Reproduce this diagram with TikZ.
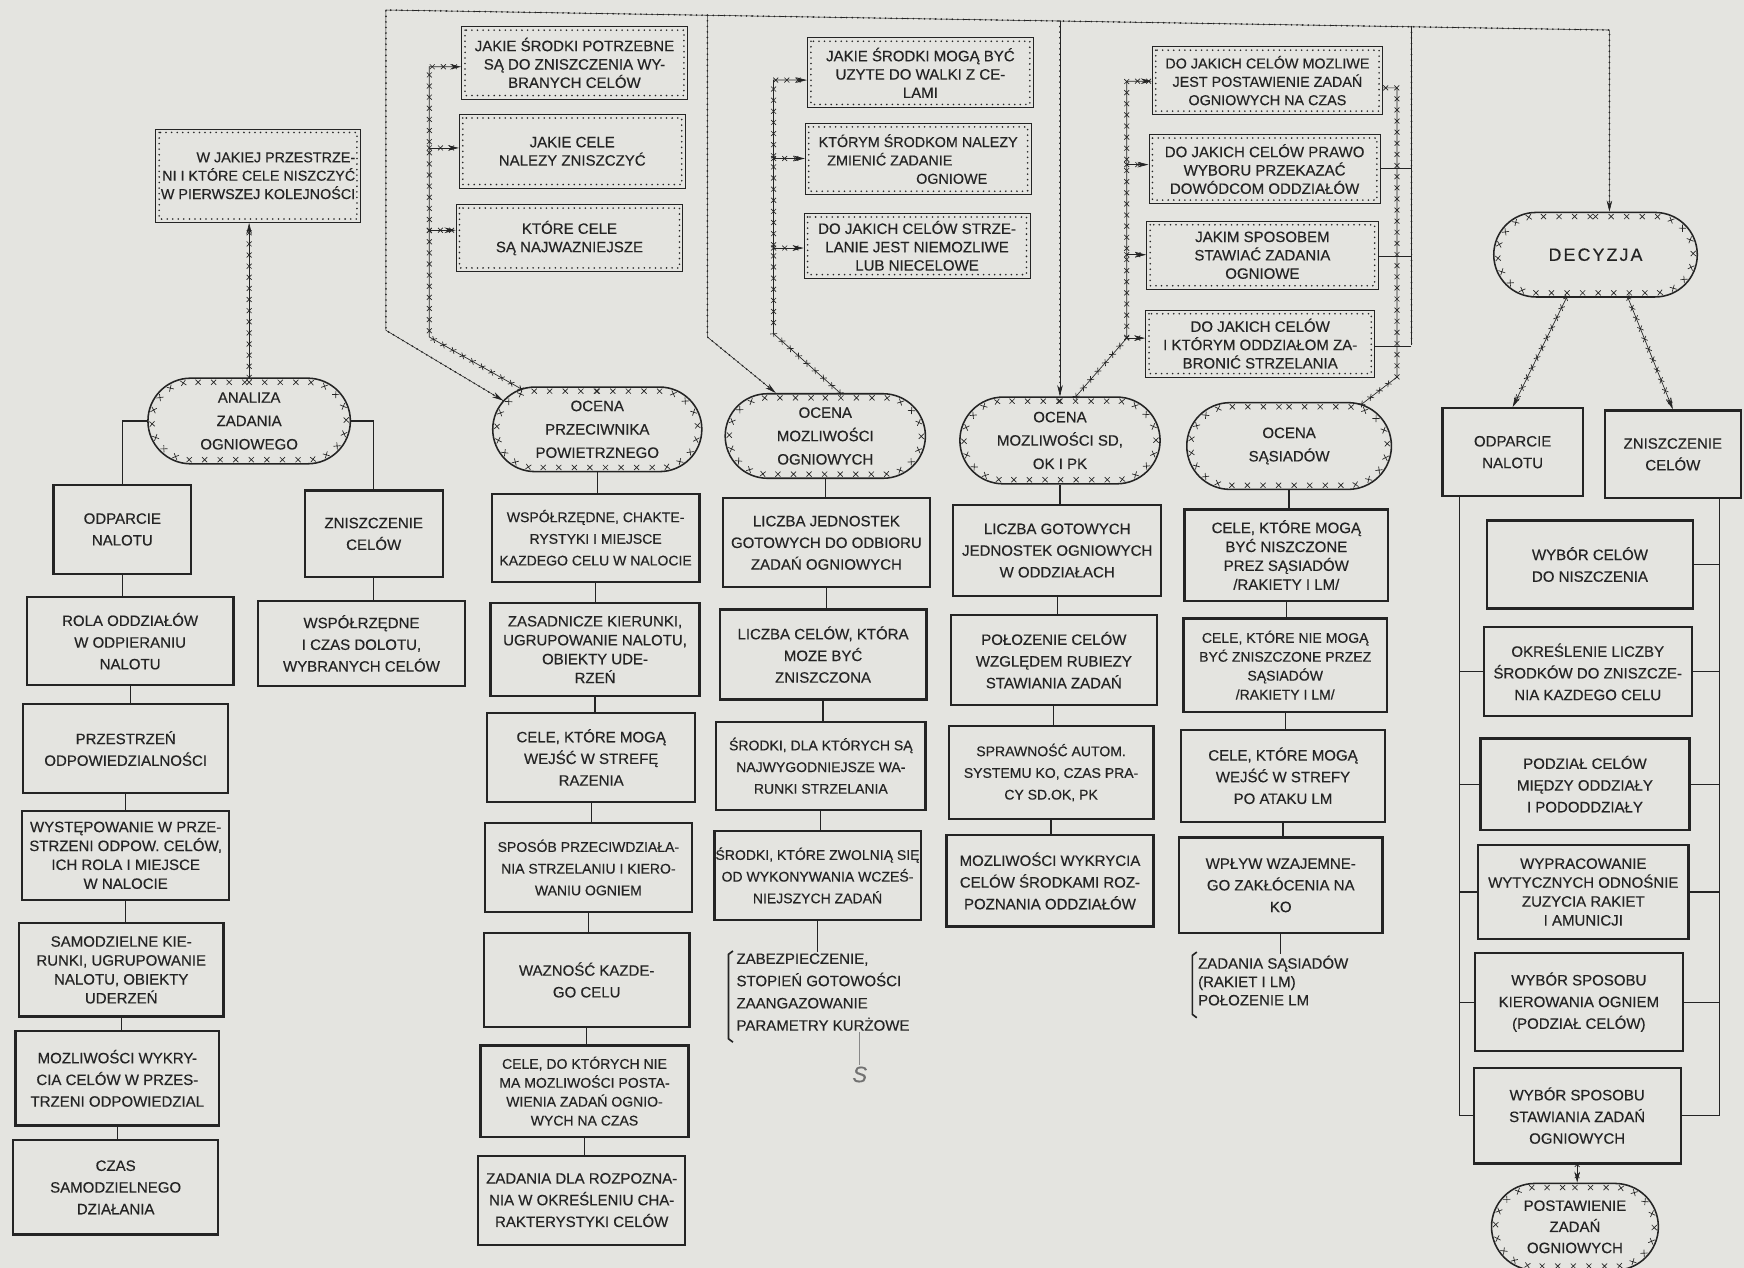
\documentclass[tikz,border=0pt]{standalone}
\usepackage{fontspec}
\setmainfont[FakeBold=0.35]{Liberation Sans}
\usetikzlibrary{shapes.misc,arrows.meta,decorations.markings,calc}
\definecolor{paper}{RGB}{228,228,224}
\definecolor{ink}{RGB}{36,36,36}
\definecolor{txt}{RGB}{36,36,36}
\tikzset{
 every node/.style={font=\fontsize{13.5}{19.5}\selectfont, text=txt, inner sep=1pt},
 pbox/.style={draw=ink, line width=2pt, rectangle, align=center},
 qbox/.style={draw=ink, line width=0.8pt, rectangle, align=center, font=\fontsize{13.5}{16.5}\selectfont},
 four/.style={font=\fontsize{13.5}{17}\selectfont},
 vtfour/.style={font=\fontsize{12.6}{17}\selectfont},
 tight/.style={font=\fontsize{12.6}{19.5}\selectfont},
 qtight/.style={font=\fontsize{12.9}{16.5}\selectfont},
 pill/.style={rounded rectangle, draw=ink, line width=1.4pt, align=center, font=\fontsize{13.5}{21}\selectfont,
   postaction={decorate, decoration={markings, mark=between positions 0 and 1 step 14pt with {\draw[ink, line width=0.6pt, arrows=-] (-2.3pt,-1.4pt)--(2.3pt,-6pt) (-2.3pt,-6pt)--(2.3pt,-1.4pt);}}}},
 cn/.style={draw=ink, line width=1.1pt},
 dotln/.style={draw=ink, line width=0.5pt, postaction={draw=ink, arrows=-, line width=1.7pt, dash pattern=on 0pt off 5pt, line cap=round}},
 xln/.style={draw=ink, line width=0.6pt, postaction={decorate, decoration={markings, mark=between positions 0 and 1 step 10pt with {\draw[ink, line width=0.6pt, arrows=-] (-2.2pt,-2.2pt)--(2.2pt,2.2pt) (-2.2pt,2.2pt)--(2.2pt,-2.2pt);}}}},
 tip/.style={-{Stealth[length=10pt,width=5pt]}},
 qdot/.style={draw=ink, line width=1.6pt, dash pattern=on 0pt off 5pt, line cap=round},
 tie/.style={draw=ink, line width=0.6pt, double=paper, double distance=2.4pt},
 brk/.style={draw=ink, line width=1.5pt},
}
\newcommand{\mybx}[7]{\node[#1, minimum width={#5-#3}, minimum height={#6-#4}] (#2) at ({(#3+#5)/2},{(#4+#6)/2}) {#7};}
\newcommand{\mypill}[7]{\node[pill, #7, minimum width={#4-#2}, minimum height={#5-#3}] (#1) at ({(#2+#4)/2},{(#3+#5)/2}) {#6};}
\newcommand{\mydots}[1]{\draw[qdot] ([shift={(3.5pt,-3.5pt)}]#1.north west) rectangle ([shift={(-3.5pt,3.5pt)}]#1.south east);}
\begin{document}
\begin{tikzpicture}[x=1pt,y=-1pt]
\useasboundingbox (0,0) rectangle (1568,1140);
\fill[paper] (0,0) rectangle (1568,1140);

% ---------- column A ----------
\mybx{qbox,qtight,align=right}{wj}{140}{116}{324}{200}{W JAKIEJ PRZESTRZE-\\NI I KTÓRE CELE NISZCZYĆ\\W PIERWSZEJ KOLEJNOŚCI}
\mypill{analiza}{132}{340}{316}{417}{ANALIZA\\ZADANIA\\OGNIOWEGO}{}
\mybx{pbox}{odpA}{48}{436}{172}{516}{ODPARCIE\\NALOTU}
\mybx{pbox}{znA}{274}{441}{398}{519}{ZNISZCZENIE\\CELÓW}
\mybx{pbox}{wspA}{232}{540}{418}{617}{WSPÓŁRZĘDNE\\I CZAS DOLOTU,\\WYBRANYCH CELÓW}
\mybx{pbox}{a1}{24}{537}{210}{616}{ROLA ODDZIAŁÓW\\W ODPIERANIU\\NALOTU}
\mybx{pbox}{a2}{21}{633}{205}{713}{PRZESTRZEŃ\\ODPOWIEDZIALNOŚCI}
\mybx{pbox,four}{a3}{20}{729}{206}{809}{WYSTĘPOWANIE W PRZE-\\STRZENI ODPOW. CELÓW,\\ICH ROLA I MIEJSCE\\W NALOCIE}
\mybx{pbox,four}{a4}{17}{830}{201}{914}{SAMODZIELNE KIE-\\RUNKI, UGRUPOWANIE\\NALOTU, OBIEKTY\\UDERZEŃ}
\mybx{pbox}{a5}{14}{927}{197}{1012}{MOZLIWOŚCI WYKRY-\\CIA CELÓW W PRZES-\\TRZENI ODPOWIEDZIAL}
\mybx{pbox}{a6}{12}{1025}{196}{1110}{CZAS\\SAMODZIELNEGO\\DZIAŁANIA}

% ---------- column B ----------
\mybx{qbox}{qb1}{415}{24}{618}{89}{JAKIE ŚRODKI POTRZEBNE\\SĄ DO ZNISZCZENIA WY-\\BRANYCH CELÓW}
\mybx{qbox}{qb2}{413}{103}{616}{169}{JAKIE CELE\\NALEZY ZNISZCZYĆ}
\mybx{qbox}{qb3}{410}{184}{614}{244}{KTÓRE CELE\\SĄ NAJWAZNIEJSZE}
\mypill{ocenaB}{442}{348}{632}{424}{OCENA\\PRZECIWNIKA\\POWIETRZNEGO}{}
\mybx{pbox,tight}{b1}{442}{444}{629}{523}{WSPÓŁRZĘDNE, CHAKTE-\\RYSTYKI I MIEJSCE\\KAZDEGO CELU W NALOCIE}
\mybx{pbox,four}{b2}{441}{542}{629}{626}{ZASADNICZE KIERUNKI,\\UGRUPOWANIE NALOTU,\\OBIEKTY UDE-\\RZEŃ}
\mybx{pbox}{b3}{438}{641}{625}{721}{CELE, KTÓRE MOGĄ\\WEJŚĆ W STREFĘ\\RAZENIA}
\mybx{pbox,tight}{b4}{436}{740}{622}{820}{SPOSÓB PRZECIWDZIAŁA-\\NIA STRZELANIU I KIERO-\\WANIU OGNIEM}
\mybx{pbox}{b5}{435}{839}{620}{923}{WAZNOŚĆ KAZDE-\\GO CELU}
\mybx{pbox,vtfour}{b6}{432}{940}{619}{1022}{CELE, DO KTÓRYCH NIE\\MA MOZLIWOŚCI POSTA-\\WIENIA ZADAŃ OGNIO-\\WYCH NA CZAS}
\mybx{pbox}{b7}{430}{1039}{616}{1119}{ZADANIA DLA ROZPOZNA-\\NIA W OKREŚLENIU CHA-\\RAKTERYSTYKI CELÓW}

% ---------- column C ----------
\mybx{qbox}{qc1}{726}{34}{929}{97}{JAKIE ŚRODKI MOGĄ BYĆ\\UZYTE DO WALKI Z CE-\\LAMI}
\mybx{qbox,qtight,align=left}{qc2}{724}{111}{927}{175}{KTÓRYM ŚRODKOM NALEZY\\\hspace*{0.6em}ZMIENIĆ ZADANIE\\\hspace*{6.8em}OGNIOWE}
\mybx{qbox}{qc3}{723}{192}{926}{250}{DO JAKICH CELÓW STRZE-\\LANIE JEST NIEMOZLIWE\\LUB NIECELOWE}
\mypill{ocenaC}{651}{354}{833}{430}{OCENA\\MOZLIWOŚCI\\OGNIOWYCH}{}
\mybx{pbox}{c1}{650}{448}{836}{528}{LICZBA JEDNOSTEK\\GOTOWYCH DO ODBIORU\\ZADAŃ OGNIOWYCH}
\mybx{pbox}{c2}{647}{548}{833}{629}{LICZBA CELÓW, KTÓRA\\MOZE BYĆ\\ZNISZCZONA}
\mybx{pbox,tight}{c3}{644}{649}{832}{728}{ŚRODKI, DLA KTÓRYCH SĄ\\NAJWYGODNIEJSZE WA-\\RUNKI STRZELANIA}
\mybx{pbox,tight}{c4}{643}{747}{827}{827}{ŚRODKI, KTÓRE ZWOLNIĄ SIĘ\\OD WYKONYWANIA WCZEŚ-\\NIEJSZYCH ZADAŃ}
\node[anchor=north west, align=left, font=\fontsize{13.5}{20}\selectfont] (noteC) at (661,856) {ZABEZPIECZENIE,\\STOPIEŃ GOTOWOŚCI\\ZAANGAZOWANIE\\PARAMETRY KURŻOWE};
\node[font=\fontsize{20}{20}\selectfont\itshape, text=ink!65] (sMark) at (773,966) {S};

% ---------- column D ----------
\mybx{qbox,qtight}{qd1}{1036}{42}{1243}{103}{DO JAKICH CELÓW MOZLIWE\\JEST POSTAWIENIE ZADAŃ\\OGNIOWYCH NA CZAS}
\mybx{qbox}{qd2}{1033}{121}{1241}{183}{DO JAKICH CELÓW PRAWO\\WYBORU PRZEKAZAĆ\\DOWÓDCOM ODDZIAŁÓW}
\mybx{qbox}{qd3}{1031}{199}{1239}{260}{JAKIM SPOSOBEM\\STAWIAĆ ZADANIA\\OGNIOWE}
\mybx{qbox}{qd4}{1030}{279}{1236}{339}{DO JAKICH CELÓW\\I KTÓRYM ODDZIAŁOM ZA-\\BRONIĆ STRZELANIA}
\mypill{ocenaD}{862}{357}{1044}{435}{OCENA\\MOZLIWOŚCI SD,\\OK I PK}{}
\mybx{pbox}{d1}{857}{454}{1044}{536}{LICZBA GOTOWYCH\\JEDNOSTEK OGNIOWYCH\\W ODDZIAŁACH}
\mybx{pbox}{d2}{855}{553}{1040}{634}{POŁOZENIE CELÓW\\WZGLĘDEM RUBIEZY\\STAWIANIA ZADAŃ}
\mybx{pbox,tight}{d3}{853}{653}{1037}{736}{SPRAWNOŚĆ AUTOM.\\SYSTEMU KO, CZAS PRA-\\CY SD.OK, PK}
\mybx{pbox}{d4}{851}{751}{1037}{833}{MOZLIWOŚCI WYKRYCIA\\CELÓW ŚRODKAMI ROZ-\\POZNANIA ODDZIAŁÓW}

% ---------- column E ----------
\mypill{ocenaE}{1066}{362}{1252}{440}{OCENA\\SĄSIADÓW}{}
\mybx{pbox,four}{e1}{1065}{458}{1248}{540}{CELE, KTÓRE MOGĄ\\BYĆ NISZCZONE\\PREZ SĄSIADÓW\\/RAKIETY I LM/}
\mybx{pbox,vtfour}{e2}{1064}{556}{1247}{640}{CELE, KTÓRE NIE MOGĄ\\BYĆ ZNISZCZONE PRZEZ\\SĄSIADÓW\\/RAKIETY I LM/}
\mybx{pbox}{e3}{1062}{656}{1245}{739}{CELE, KTÓRE MOGĄ\\WEJŚĆ W STREFY\\PO ATAKU LM}
\mybx{pbox}{e4}{1060}{753}{1243}{839}{WPŁYW WZAJEMNE-\\GO ZAKŁÓCENIA NA\\KO}
\node[anchor=north west, align=left, font=\fontsize{13.5}{16.5}\selectfont] (noteE) at (1076,858) {ZADANIA SĄSIADÓW\\(RAKIET I LM)\\POŁOZENIE LM};

% ---------- column F ----------
\mypill{decyzja}{1342}{191}{1527}{267}{{\addfontfeature{LetterSpace=12}DECYZJA}}{font=\fontsize{16}{20}\selectfont}
\mybx{pbox}{odpB}{1297}{367}{1423}{446}{ODPARCIE\\NALOTU}
\mybx{pbox}{znB}{1443}{369}{1565}{448}{ZNISZCZENIE\\CELÓW}
\mybx{pbox}{f1}{1337}{468}{1522}{547}{WYBÓR CELÓW\\DO NISZCZENIA}
\mybx{pbox}{f2}{1334}{564}{1521}{644}{OKREŚLENIE LICZBY\\ŚRODKÓW DO ZNISZCZE-\\NIA KAZDEGO CELU}
\mybx{pbox}{f3}{1331}{664}{1519}{746}{PODZIAŁ CELÓW\\MIĘDZY ODDZIAŁY\\I PODODDZIAŁY}
\mybx{pbox,four}{f4}{1329}{760}{1518}{844}{WYPRACOWANIE\\WYTYCZNYCH ODNOŚNIE\\ZUZYCIA RAKIET\\I AMUNICJI}
\mybx{pbox}{f5}{1326}{857}{1513}{945}{WYBÓR SPOSOBU\\KIEROWANIA OGNIEM\\(PODZIAŁ CELÓW)}
\mybx{pbox}{f6}{1325}{960}{1511}{1046}{WYBÓR SPOSOBU\\STAWIANIA ZADAŃ\\OGNIOWYCH}
\mypill{post}{1340}{1064}{1492}{1142}{POSTAWIENIE\\ZADAŃ\\OGNIOWYCH}{font=\fontsize{13.5}{19}\selectfont}

% dotted inner frames of question boxes
\foreach \q in {wj,qb1,qb2,qb3,qc1,qc2,qc3,qd1,qd2,qd3,qd4} {\mydots{\q}}

% ---------- coordinates ----------
\coordinate (tA) at (347,9);
\coordinate (tF) at (1447,27);
\coordinate (bC) at (636,13.7);
\coordinate (bD) at (953,18.9);
\coordinate (bE) at (1269,24.1);
\coordinate (eE) at (1269,310);
\coordinate (te2) at (1269,153);
\coordinate (te3) at (1269,229);
\coordinate (xb1) at (386,60);
\coordinate (xb2) at (386,133);
\coordinate (xb3) at (386,207);
\coordinate (xc1) at (695.5,72);
\coordinate (xc2) at (695.5,142.5);
\coordinate (xc3) at (695.5,223);
\coordinate (xd1) at (1013,73);
\coordinate (xd2) at (1013,148);
\coordinate (xd3) at (1013,229);
\coordinate (xd4) at (1013,304);
\coordinate (xe1) at (1256,79);

% ---------- dotted bus ----------
\draw[dotln, {Stealth[length=10pt,width=5pt]}-{Stealth[length=10pt,width=5pt]}] (ocenaB.163) -- (347,297) -- (tA) -- (tF) -- (tF |- decyzja.north);
\draw[dotln, tip] (bC) -- (636,303) -- (ocenaC.139);
\draw[dotln, tip] (bD) -- (ocenaD.north);
\draw[dotln] (bE) -- (eE);
\draw[tie] (eE) -- (eE -| qd4.east);
\draw[tie] (te2) -- (te2 -| qd2.east);
\draw[tie] (te3) -- (te3 -| qd3.east);

% ---------- x-lines ----------
\draw[xln, tip] (analiza.north) -- (analiza.north |- wj.south);
\draw[xln, tip] (ocenaB.152) -- (386,303) -- (xb1) -- (xb1 -| qb1.west);
\draw[xln, tip] (xb2) -- (xb2 -| qb2.west);
\draw[xln, tip] (xb3) -- (xb3 -| qb3.west);
\draw[xln, tip] (ocenaC.71) -- (695.5,300) -- (xc1) -- (xc1 -| qc1.west);
\draw[xln, tip] (xc2) -- (xc2 -| qc2.west);
\draw[xln, tip] (xc3) -- (xc3 -| qc3.west);
\draw[xln, tip] (ocenaD.70) -- (xd4) -- (xd1) -- (xd1 -| qd1.west);
\draw[xln, tip] (xd2) -- (xd2 -| qd2.west);
\draw[xln, tip] (xd3) -- (xd3 -| qd3.west);
\draw[xln, tip] (xd4) -- (xd4 -| qd4.west);
\draw[xln] (ocenaE.30) -- (1256,339) -- (xe1) -- (xe1 -| qd1.east);
\draw[xln, tip] (decyzja.236) -- (odpB.north);
\draw[xln, tip] (decyzja.307) -- (znB.north);
\draw[xln, tip] (f6.south) -- (f6.south |- post.north);

% ---------- plain connectors ----------
\draw[cn] (analiza.west) -| (odpA.north);
\draw[cn] (analiza.east) -| (znA.north);
\draw[cn] (znA.south) -- (znA.south |- wspA.north);
\foreach \u/\v in {odpA/a1,a1/a2,a2/a3,a3/a4,a4/a5,a5/a6,
  ocenaB/b1,b1/b2,b2/b3,b3/b4,b4/b5,b5/b6,b6/b7,
  ocenaC/c1,c1/c2,c2/c3,c3/c4,
  ocenaD/d1,d1/d2,d2/d3,d3/d4,
  ocenaE/e1,e1/e2,e2/e3,e3/e4}
  {\draw[cn] (\u.south) -- (\u.south |- \v.north);}
\draw[cn] (c4.south) -- (c4.south |- noteC.north);
\draw[cn] (e4.south) -- (e4.south |- noteE.north);
\draw[ink!55, line width=0.6pt] (noteC.south -| sMark.north) -- (sMark.north);
\draw[brk] (659,855) -- (655,858) -- (655,934) -- (659,937);
\draw[brk] (1076,856) -- (1072,859) -- (1072,912) -- (1076,915);

\coordinate (Lt) at ([xshift=16pt]odpB.south west);
\coordinate (Rt) at ([xshift=-20pt]znB.south east);
\draw[cn] (Lt) |- (f6.west);
\foreach \f in {f2,f3,f4,f5} {\draw[cn] (\f.west) -- (\f.west -| Lt);}
\draw[cn] (Rt) |- (f6.east);
\foreach \f in {f1,f2,f3,f4,f5} {\draw[cn] (\f.east) -- (\f.east -| Rt);}
\end{tikzpicture}
\end{document}
